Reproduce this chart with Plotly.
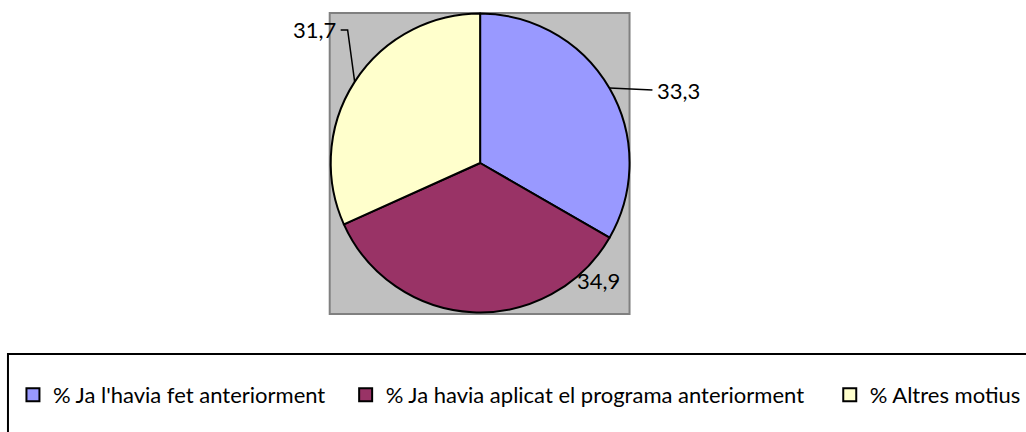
import math
import plotly.graph_objects as go

labels = ["% Ja l'havia fet anteriorment", "% Ja havia aplicat el programa anteriorment", "% Altres motius"]
values = [33.3, 34.9, 31.7]
colors = ["#9999FF", "#993366", "#FFFFCC"]

W, H = 1026, 432
CX, CY, R = 482, 163, 150  # pie centre / radius in px


def px(x, y):
    return x / W, 1 - y / H


def edge_point(i):
    total = sum(values)
    start = sum(values[:i]) / total * 360
    mid = math.radians(start + values[i] / total * 180)
    return CX + R * math.sin(mid), CY - R * math.cos(mid)


fig = go.Figure(go.Pie(
    labels=labels,
    values=values,
    sort=False,
    direction="clockwise",
    rotation=0,
    marker=dict(colors=colors, line=dict(color="black", width=2)),
    textinfo="none",
    hoverinfo="label+value",
    showlegend=False,
    domain=dict(x=[332 / W, 632 / W], y=[1 - 313 / H, 1 - 13 / H]),
))

# one legend per category so the gaps can follow the original
legend_names = ["legend", "legend2", "legend3"]
legend_left = [13, 347, 833]
for name, color, lg in zip(labels, colors, legend_names):
    fig.add_trace(go.Scatter(
        x=[None], y=[None], mode="markers", name=name, legend=lg,
        marker=dict(symbol="square", size=13, color=color, line=dict(color="black", width=2)),
    ))

fmt = [f"{v:.1f}".replace(".", ",") for v in values]

# gray plot area
x0, y0 = px(331, 13)
x1, y1 = px(632, 314)
fig.add_shape(type="rect", xref="paper", yref="paper", x0=x0, y0=y1, x1=x1, y1=y0,
              fillcolor="#C0C0C0", line=dict(color="#808080", width=2), layer="below")

# legend frame
lx0, ly0 = px(8, 354)
lx1, ly1 = px(1040, 445)
fig.add_shape(type="rect", xref="paper", yref="paper", x0=lx0, y0=ly1, x1=lx1, y1=ly0,
              fillcolor="rgba(0,0,0,0)", line=dict(color="black", width=2))

# leader lines + labels
ex, ey = edge_point(0)
a, b = px(ex, ey)
c, d = px(655, 90)
fig.add_shape(type="line", xref="paper", yref="paper", x0=a, y0=b, x1=c, y1=d,
              line=dict(color="black", width=1.5))
ex, ey = edge_point(2)
p1 = px(ex, ey)
p2 = px(349, 30)
p3 = px(342, 30)
fig.add_shape(type="path", xref="paper", yref="paper",
              path=f"M {p1[0]},{p1[1]} L {p2[0]},{p2[1]} L {p3[0]},{p3[1]}",
              line=dict(color="black", width=1.5))

label_pos = [(658, 90, "left"), (601, 280, "center"), (339, 30, "right")]
for text, (x, y, anchor) in zip(fmt, label_pos):
    ax, ay = px(x, y)
    fig.add_annotation(x=ax, y=ay, xref="paper", yref="paper", text=text, showarrow=False,
                       xanchor=anchor, yanchor="middle", font=dict(size=22, color="black"))

legend_style = dict(orientation="h", xanchor="left", y=1 - 395 / H, yanchor="middle",
                    font=dict(size=22), bgcolor="rgba(0,0,0,0)")
fig.update_layout(
    width=W, height=H,
    margin=dict(l=0, r=0, t=0, b=0),
    paper_bgcolor="white",
    plot_bgcolor="white",
    font=dict(family="Lato", size=22, color="black"),
    xaxis=dict(visible=False),
    yaxis=dict(visible=False),
    legend=dict(x=legend_left[0] / W, **legend_style),
    legend2=dict(x=legend_left[1] / W, **legend_style),
    legend3=dict(x=legend_left[2] / W, **legend_style),
)

fig.write_html("out.html", config={"displayModeBar": False},
               post_script="document.body.style.margin = '0';")
